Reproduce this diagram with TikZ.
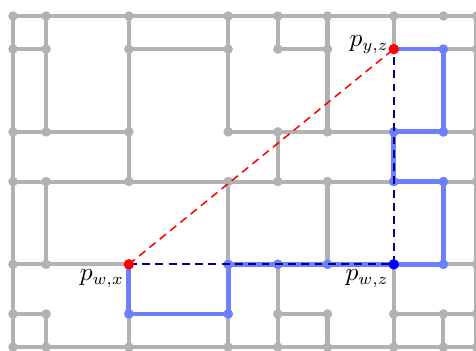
\documentclass[tikz,border=0pt]{standalone}
\usetikzlibrary{calc}
\definecolor{gridgray}{RGB}{178,178,178}
\definecolor{pathblue}{RGB}{108,128,255}
\definecolor{navyd}{RGB}{0,0,128}
\tikzset{
  grayedge/.style={draw=gridgray, line width=1.75pt},
  blueedge/.style={draw=pathblue, line width=2.05pt, line join=round},
  graydot/.style={fill=gridgray},
  bluedot/.style={fill=pathblue},
  reddashed/.style={draw=red, line width=0.65pt, dash pattern=on 3.4pt off 2.3pt},
  navydashed/.style={draw=navyd, line width=0.75pt, dash pattern=on 3.4pt off 2.3pt},
  lbl/.style={font=\fontsize{10.5}{12.5}\selectfont, inner sep=2pt}
}
\begin{document}
\begin{tikzpicture}[x=0.25cm, y=-0.25cm]
\useasboundingbox (-0.785,-0.967) rectangle (27.97,20.18);
\clip (-0.785,-0.967) rectangle (27.97,20.18);
% grid points
\foreach \c in {0,2,7,13,16,19,23,26,28}{
  \foreach \r in {0,2,7,10,15,18,20}{
    \coordinate (v-\c-\r) at (\c,\r);
  }
}
% gray horizontal edges
\path[grayedge] (v-0-0) -- (v-28-0);
\path[grayedge] (v-0-2) -- (v-2-2) (v-7-2) -- (v-13-2) (v-16-2) -- (v-19-2) (v-26-2) -- (v-28-2);
\path[grayedge] (v-0-7) -- (v-7-7) (v-13-7) -- (v-23-7) (v-26-7) -- (v-28-7);
\path[grayedge] (v-0-10) -- (v-23-10) (v-26-10) -- (v-28-10);
\path[grayedge] (v-0-15) -- (v-7-15) (v-26-15) -- (v-28-15);
\path[grayedge] (v-0-18) -- (v-2-18) (v-16-18) -- (v-19-18) (v-23-18) -- (v-28-18);
\path[grayedge] (v-0-20) -- (v-28-20);
% gray vertical edges
\path[grayedge] (v-0-0) -- (v-0-20);
\path[grayedge] (v-2-0) -- (v-2-7) (v-2-10) -- (v-2-15) (v-2-18) -- (v-2-20);
\path[grayedge] (v-7-0) -- (v-7-10) (v-7-18) -- (v-7-20);
\path[grayedge] (v-13-0) -- (v-13-7) (v-13-10) -- (v-13-15) (v-13-18) -- (v-13-20);
\path[grayedge] (v-16-0) -- (v-16-2) (v-16-7) -- (v-16-10) (v-16-15) -- (v-16-20);
\path[grayedge] (v-19-0) -- (v-19-7) (v-19-10) -- (v-19-15) (v-19-18) -- (v-19-20);
\path[grayedge] (v-23-0) -- (v-23-2) (v-23-15) -- (v-23-20);
\path[grayedge] (v-26-18) -- (v-26-20);
\path[grayedge] (v-28-0) -- (v-28-20);
% gray dots
\foreach \c in {0,2,7,13,16,19,23,26,28}{
  \foreach \r in {0,2,7,10,15,18,20}{
    \fill[graydot] (v-\c-\r) circle (2.05pt);
  }
}
% blue path
\path[blueedge] (v-7-15) -- (v-7-18) -- (v-13-18) -- (v-13-15) -- (v-23-15) -- (v-26-15)
  -- (v-26-10) -- (v-23-10) -- (v-23-7) -- (v-26-7) -- (v-26-2) -- (v-23-2);
\foreach \p in {7-18,13-18,13-15,16-15,19-15,26-15,26-10,23-10,23-7,26-7,26-2}{
  \fill[bluedot] (v-\p) circle (2.05pt);
}
% dashed lines
\path[reddashed] (v-7-15) -- (v-23-2);
\path[navydashed] (v-7-15) -- (v-23-15) -- (v-23-2);
% special points
\fill[red] (v-7-15) circle (2.25pt);
\fill[red] (v-23-2) circle (2.25pt);
\fill[blue] (v-23-15) circle (2.25pt);
% labels
\node[lbl, anchor=east, yshift=2pt] (lyz) at (v-23-2) {$p_{y,z}$};
\node[lbl, anchor=north east] (lwx) at (v-7-15) {$p_{w,x}$};
\node[lbl, anchor=north east] (lwz) at (v-23-15) {$p_{w,z}$};
\end{tikzpicture}
\end{document}
